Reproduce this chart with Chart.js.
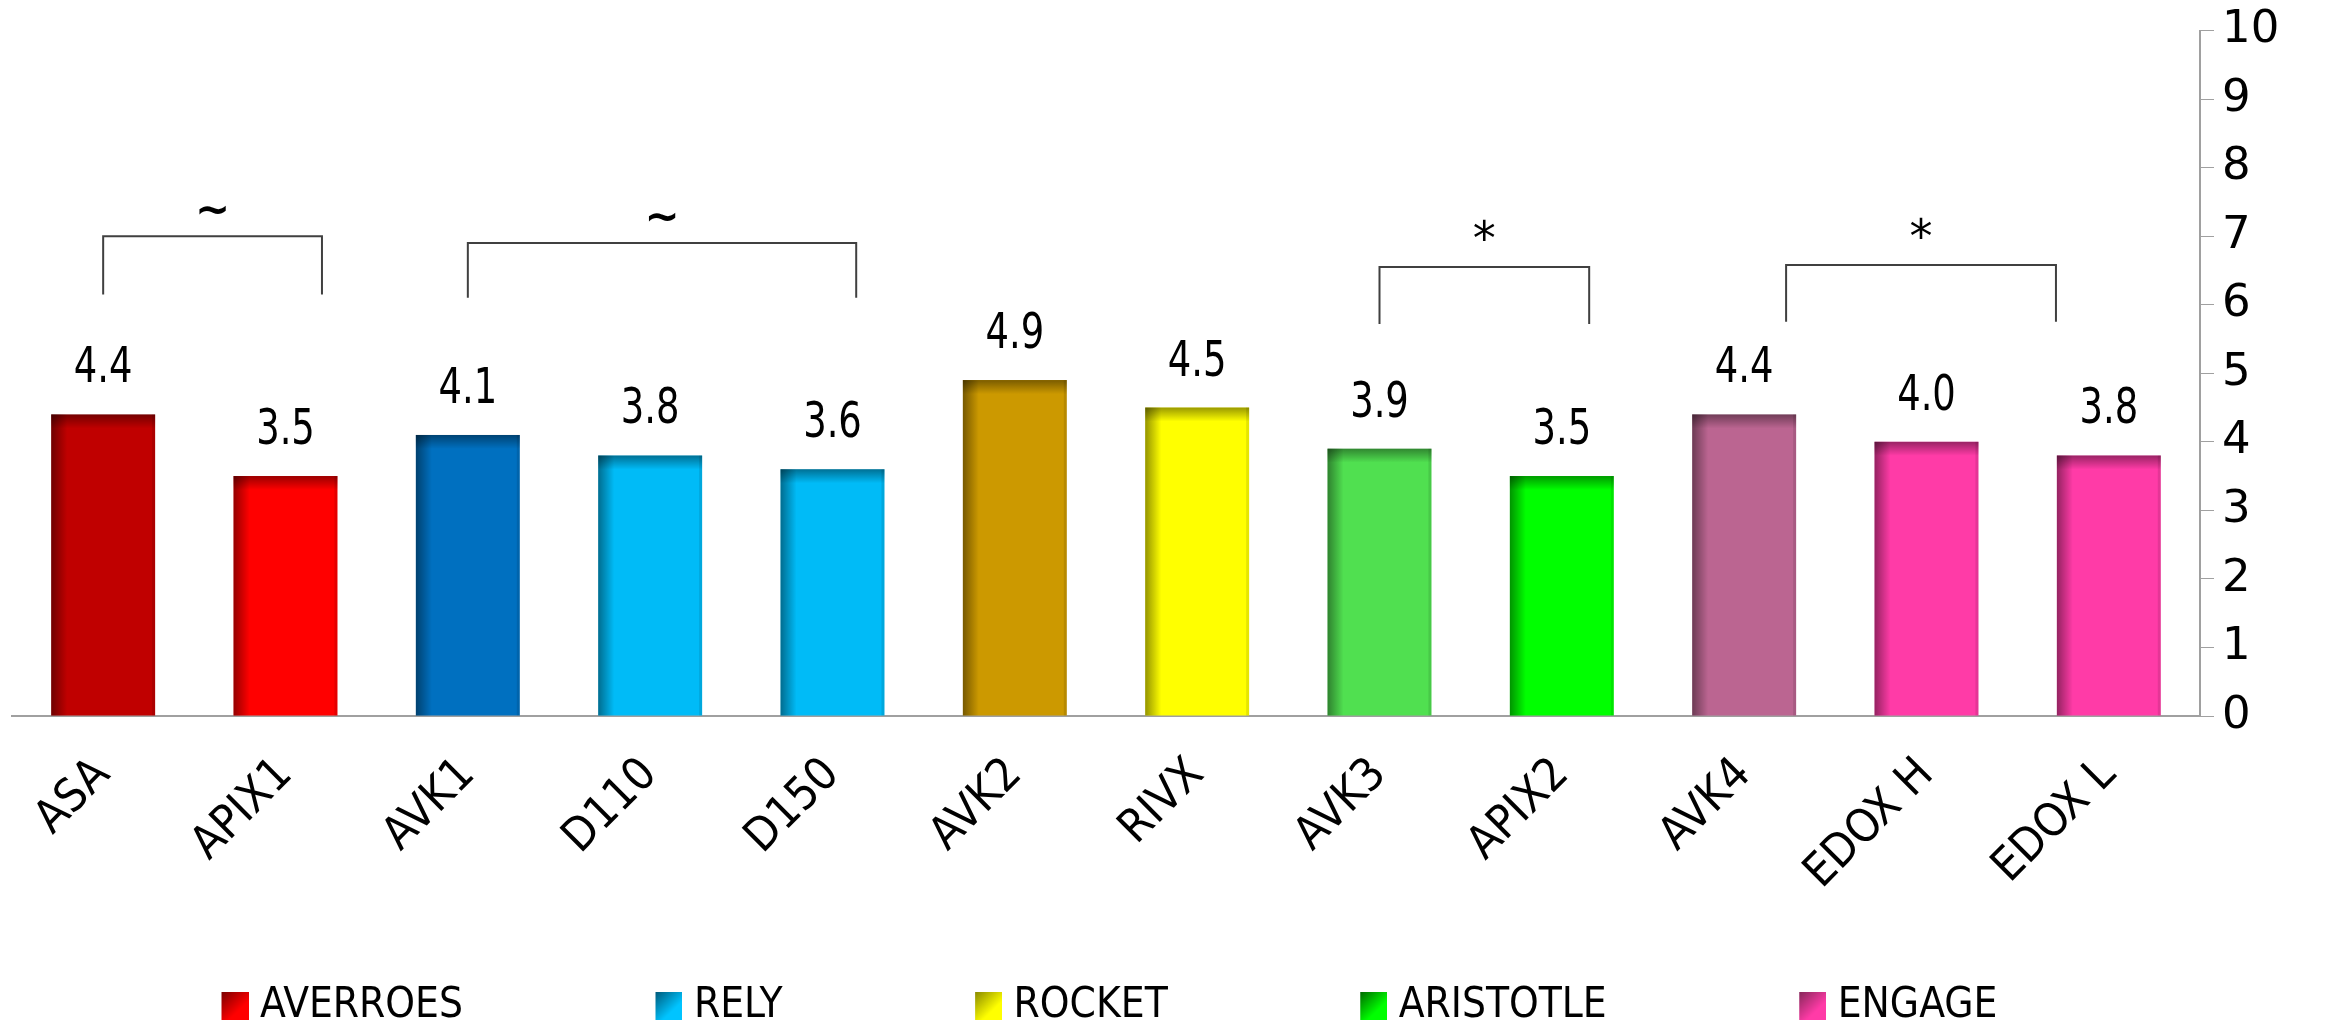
<!DOCTYPE html>
<html>
<head>
<meta charset="utf-8">
<script src="https://cdn.jsdelivr.net/npm/chart.js@4/dist/chart.umd.min.js"></script>
<style>
  html, body { margin: 0; padding: 0; background: #fff; }
  #wrap { width: 2330px; height: 1023px; }
</style>
</head>
<body>
<div id="wrap"><canvas id="chart"></canvas></div>
<script>
// Bars
const labels = ['ASA', 'APIX1', 'AVK1', 'D110', 'D150', 'AVK2', 'RIVX', 'AVK3', 'APIX2', 'AVK4', 'EDOX H', 'EDOX L'];
const values = [4.4, 3.5, 4.1, 3.8, 3.6, 4.9, 4.5, 3.9, 3.5, 4.4, 4.0, 3.8];
const barColors = ['#c00000', '#ff0000', '#0070c0', '#00bbf7', '#00bbf7', '#cc9900', '#ffff00',
                   '#50e050', '#00ff00', '#bb6591', '#ff3ba7', '#ff3ba7'];

// Legend: one entry per trial
const trials = ['AVERROES', 'RELY', 'ROCKET', 'ARISTOTLE', 'ENGAGE'];
const trialDark = ['#7a0000', '#005a7a', '#8a8a00', '#006a00', '#86285a'];
const trialBright = ['#ff0000', '#00c4ff', '#ffff00', '#00ff00', '#ff3ba7'];

// Comparison brackets (category index range, bracket height in axis units)
const brackets = [
  { from: 0, to: 1.2,  top: 7.0, leg: 6.15, mark: '~' },
  { from: 2, to: 4.13, top: 6.9, leg: 6.1,  mark: '~' },
  { from: 7, to: 8.15, top: 6.55, leg: 5.72, mark: '*' },
  { from: 9.23, to: 10.71, top: 6.58, leg: 5.75, mark: '*' }
];

const yTicks = [0, 1, 2, 3, 4, 5, 6, 7, 8, 9, 10];

const NARROW = '"DejaVu Sans Condensed", "DejaVu Sans", sans-serif';
const WIDE = '"DejaVu Sans", Verdana, sans-serif';
const LEGEND_FONT = 42;
const SLOT = 200;   // legend slot width in front of each label

// legend swatch: gradient box at the right end of a transparent strip,
// so that it sits just before the label text
function swatch(i) {
  const c = document.createElement('canvas');
  c.width = SLOT + 19; c.height = 28;
  const g = c.getContext('2d');
  const x0 = c.width - 27;
  const gr = g.createLinearGradient(x0, 0, c.width, 28);
  gr.addColorStop(0, trialDark[i]);
  gr.addColorStop(0.65, trialBright[i]);
  g.fillStyle = gr;
  g.fillRect(x0, 0, 27, 28);
  return c;
}

const decor = {
  id: 'decor',
  afterLayout(chart) {
    // legend sits a little lower and is centred under the plot, not the canvas
    const lg = chart.legend;
    lg.left += 17; lg.right += 17;
    lg.top += 14; lg.bottom += 14;
  },
  afterDatasetsDraw(chart) {
    const { ctx, scales: { x, y } } = chart;
    const meta = chart.getDatasetMeta(0);
    ctx.save();
    meta.data.forEach((bar, i) => {
      const l = bar.x - bar.width / 2, t = bar.y, w = bar.width, h = bar.base - bar.y;
      // shaded left edge and top
      let g = ctx.createLinearGradient(l, 0, l + 16, 0);
      g.addColorStop(0, 'rgba(0,0,0,0.42)');
      g.addColorStop(1, 'rgba(0,0,0,0)');
      ctx.fillStyle = g;
      ctx.fillRect(l, t, 16, h);
      g = ctx.createLinearGradient(0, t, 0, t + 14);
      g.addColorStop(0, 'rgba(0,0,0,0.4)');
      g.addColorStop(1, 'rgba(0,0,0,0)');
      ctx.fillStyle = g;
      ctx.fillRect(l, t, w, 14);
      ctx.fillStyle = 'rgba(0,0,0,0.1)';
      ctx.fillRect(l + w - 3, t, 3, h);

      // value above the bar, condensed
      ctx.save();
      ctx.translate(bar.x, t - 45);
      ctx.scale(0.82, 1);
      ctx.fillStyle = '#000';
      ctx.font = '50px ' + NARROW;
      ctx.textAlign = 'center';
      ctx.textBaseline = 'middle';
      ctx.fillText(values[i].toFixed(1), 0, 0);
      ctx.restore();
    });

    brackets.forEach(b => {
      const x0 = x.getPixelForValue(b.from), x1 = x.getPixelForValue(b.to);
      const yt = y.getPixelForValue(b.top), yl = y.getPixelForValue(b.leg);
      ctx.strokeStyle = '#404040';
      ctx.lineWidth = 2;
      ctx.beginPath();
      ctx.moveTo(x0, yl);
      ctx.lineTo(x0, yt);
      ctx.lineTo(x1, yt);
      ctx.lineTo(x1, yl);
      ctx.stroke();
      ctx.fillStyle = '#000';
      ctx.font = (b.mark === '~' ? 'bold 42px ' : '46px ') + WIDE;
      ctx.textAlign = 'center';
      ctx.textBaseline = 'bottom';
      ctx.fillText(b.mark, (x0 + x1) / 2, yt - 2);
    });
    ctx.restore();
  }
};

new Chart(document.getElementById('chart'), {
  type: 'bar',
  data: {
    labels: labels,
    datasets: [{
      data: values,
      backgroundColor: barColors,
      borderWidth: 0,
      categoryPercentage: 1,
      barPercentage: 0.57
    }]
  },
  options: {
    responsive: true,
    maintainAspectRatio: false,
    animation: false,
    layout: { padding: { left: 12, top: 0, right: 0, bottom: 0 } },
    plugins: {
      tooltip: { enabled: false },
      legend: {
        position: 'bottom',
        align: 'start',
        onClick: null,
        labels: {
          usePointStyle: true,
          pointStyleWidth: SLOT,
          padding: 10,
          color: '#000',
          font: { size: LEGEND_FONT, family: NARROW },
          generateLabels: () => trials.map((t, i) => ({
            text: t, pointStyle: swatch(i), fillStyle: trialBright[i], strokeStyle: trialBright[i],
            lineWidth: 0, hidden: false, index: i
          }))
        }
      }
    },
    scales: {
      x: {
        grid: { display: false },
        border: { color: '#a0a0a0', width: 2 },
        ticks: {
          color: '#000',
          font: { size: 46, family: NARROW },
          minRotation: 45,
          maxRotation: 45,
          padding: 24
        },
        afterFit: s => { s.height = 245; }
      },
      y: {
        position: 'right',
        min: 0,
        max: 10,
        afterBuildTicks: s => { s.ticks = yTicks.map(v => ({ value: v })); },
        grid: { drawOnChartArea: false, drawTicks: true, tickLength: 14, color: '#a0a0a0' },
        border: { color: '#a0a0a0', width: 2 },
        ticks: { color: '#000', font: { size: 45, family: WIDE, lineHeight: 1.0 }, padding: 8 },
        afterFit: s => { s.width = 130; }
      }
    }
  },
  plugins: [decor]
});
</script>
</body>
</html>
